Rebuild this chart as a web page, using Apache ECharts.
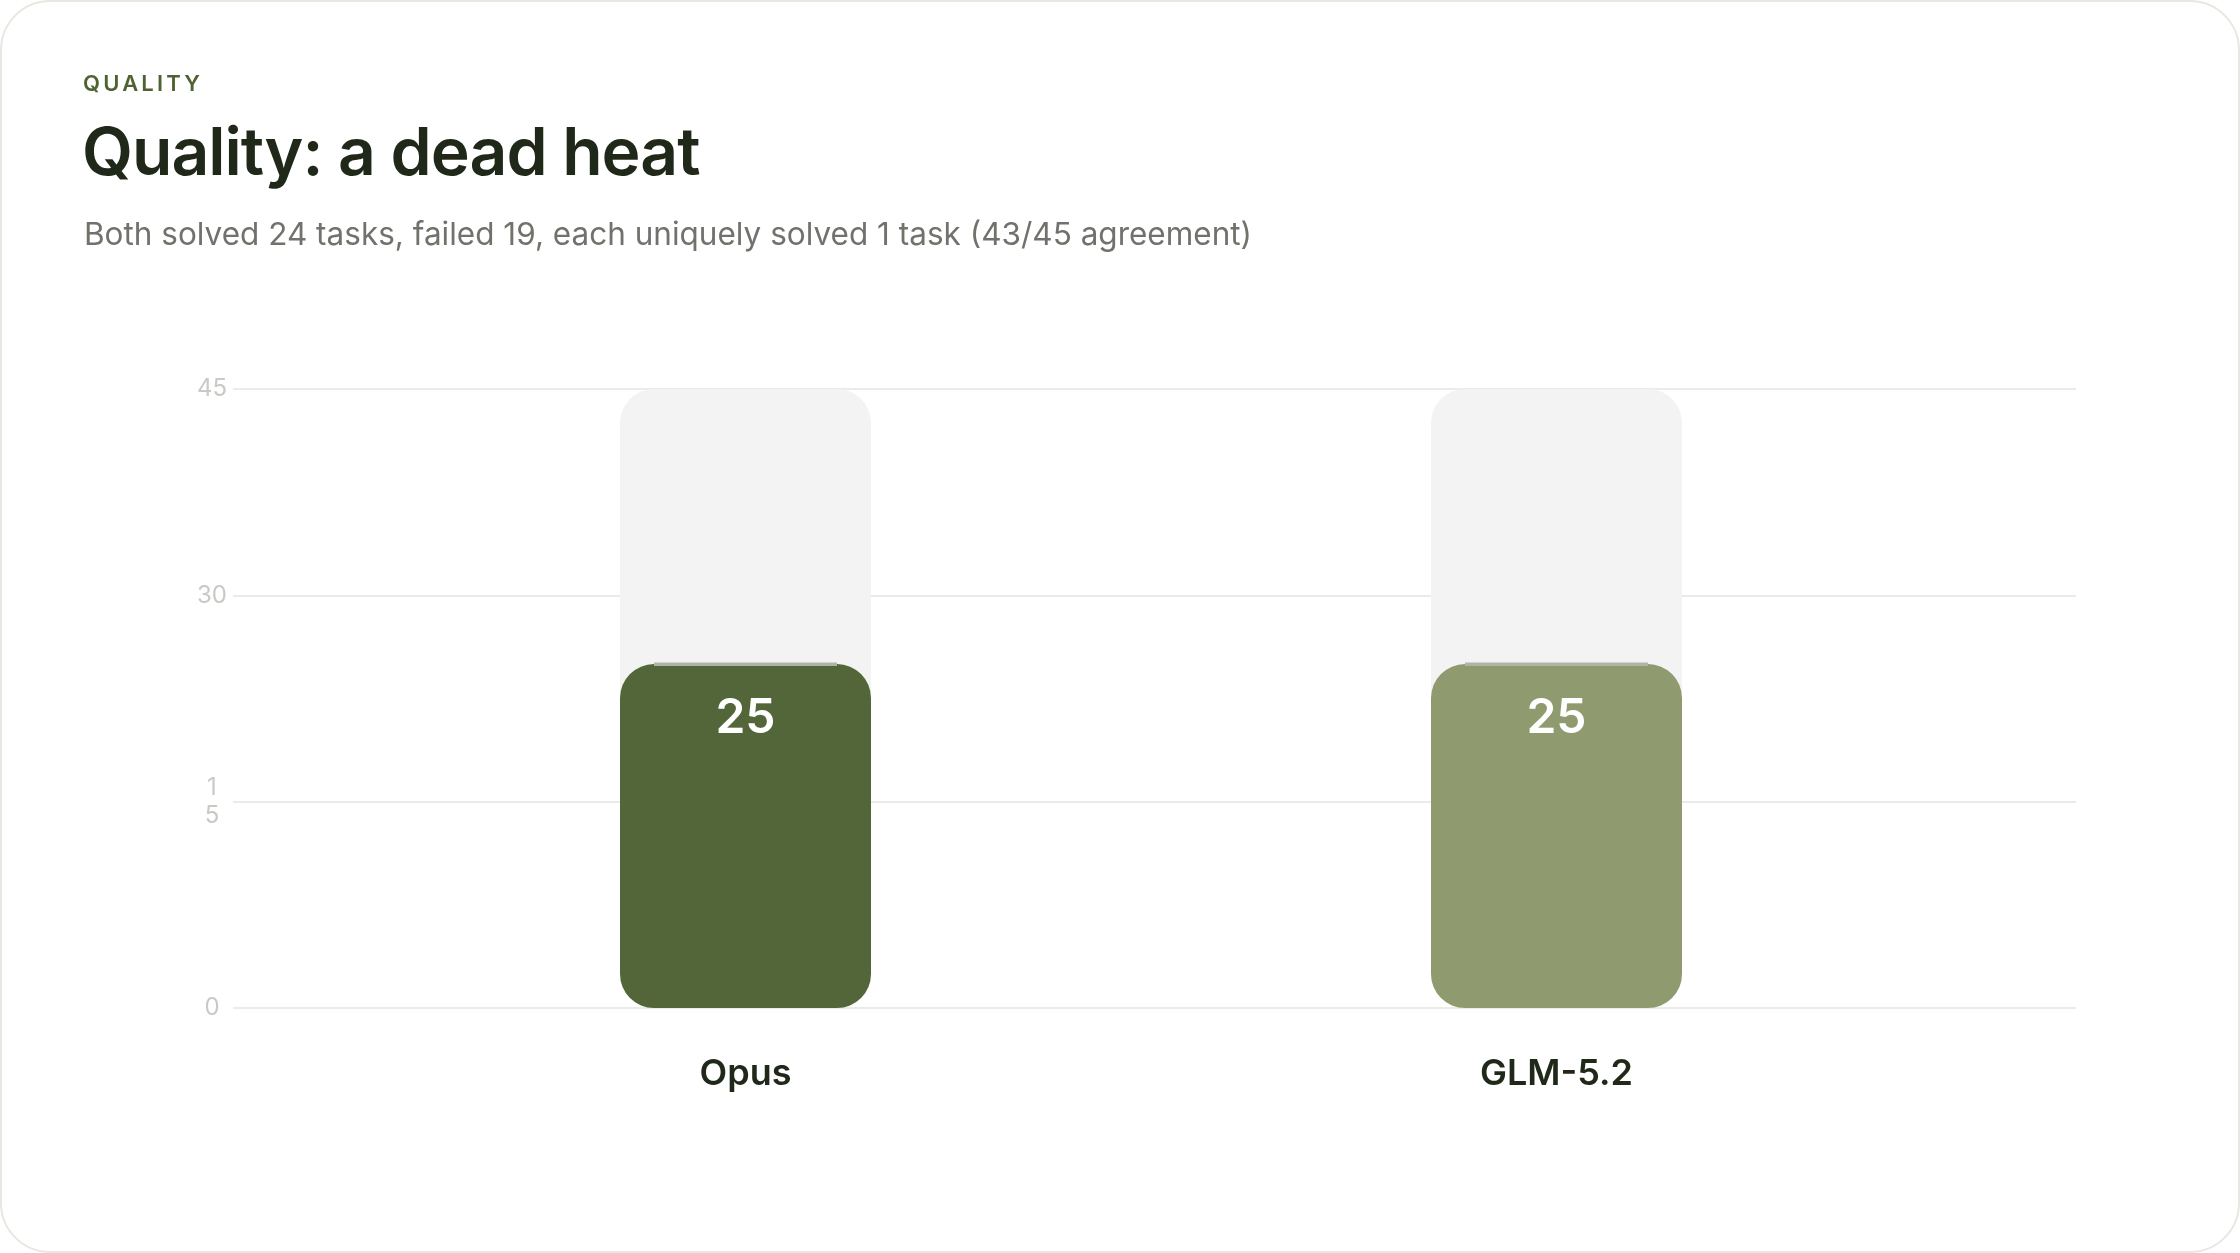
<!DOCTYPE html>
<html>
<head>
<meta charset="utf-8">
<script src="https://cdn.jsdelivr.net/npm/echarts@6/dist/echarts.min.js"></script>
<style>
    html, body {
        margin: 0;
        padding: 0;
        background: #ffffff;
        font-family: Inter, "Noto Sans", sans-serif;
    }

    .card {
        position: absolute;
        left: 0;
        top: 0;
        width: 2240px;
        height: 1253px;
        box-sizing: border-box;
        border: 2px solid #e8e8e2;
        border-radius: 50px;
        background: #ffffff;
        overflow: hidden;
    }

    .eyebrow {
        position: absolute;
        left: 81px;
        top: 70px;
        font-size: 22px;
        line-height: 1;
        font-weight: 600;
        letter-spacing: 3.2px;
        color: #4f6332;
    }

    .headline {
        position: absolute;
        left: 80px;
        top: 116px;
        font-size: 66px;
        line-height: 1;
        font-weight: 600;
        letter-spacing: -1px;
        color: #1f2819;
        white-space: nowrap;
    }

    .subline {
        position: absolute;
        left: 82px;
        top: 216px;
        font-size: 31.5px;
        line-height: 1;
        font-weight: 400;
        color: #72726d;
        white-space: nowrap;
    }

    #chart {
        position: absolute;
        left: 0;
        top: 0;
        width: 2240px;
        height: 1253px;
    }
</style>
</head>
<body>
<div class="card">
    <div id="chart"></div>
    <div class="eyebrow">QUALITY</div>
    <div class="headline">Quality: a dead heat</div>
    <div class="subline">Both solved 24 tasks, failed 19, each uniquely solved 1 task (43/45 agreement)</div>
</div>
<script>
    // 数据
    var categories = ['Opus', 'GLM-5.2'];
    var solved = [25, 25];
    var barColors = ['#536639', '#8f9b6e'];
    var yTickValues = [0, 15, 30, 45];
    var yTickLabels = ['0', '1\n5', '30', '45'];
    var yMax = 45;

    var myChart = echarts.init(document.getElementById('chart'));

    var barWidth = 251;
    var barRadius = 34;

    myChart.setOption({
        animation: false,
        textStyle: {
            fontFamily: 'Inter'
        },
        grid: [
            // 网格线用
            {left: 231, right: 166, top: 387, bottom: 247},
            // 柱子用
            {left: 338, right: 280, top: 387, bottom: 247}
        ],
        xAxis: [
            {
                gridIndex: 0,
                type: 'value',
                min: 0,
                max: 1,
                show: false
            },
            {
                gridIndex: 1,
                type: 'category',
                data: categories,
                axisLine: {show: false},
                axisTick: {show: false},
                axisLabel: {
                    color: '#1f2819',
                    fontSize: 36,
                    fontWeight: 600,
                    margin: 48
                }
            }
        ],
        yAxis: [
            {
                gridIndex: 0,
                type: 'value',
                min: 0,
                max: yMax,
                interval: 15,
                axisLine: {show: false},
                axisTick: {show: false},
                splitLine: {
                    lineStyle: {color: '#ebebe7', width: 2}
                },
                axisLabel: {
                    color: '#c9c9c5',
                    fontSize: 24,
                    lineHeight: 28,
                    align: 'center',
                    margin: 21,
                    formatter: function (v) {
                        var i = yTickValues.indexOf(v);
                        return i >= 0 ? yTickLabels[i] : '';
                    }
                }
            },
            {
                gridIndex: 1,
                type: 'value',
                min: 0,
                max: yMax,
                show: false,
                splitLine: {show: false}
            }
        ],
        series: [
            {
                type: 'bar',
                xAxisIndex: 1,
                yAxisIndex: 1,
                barWidth: barWidth,
                showBackground: true,
                backgroundStyle: {
                    color: '#f3f3f3',
                    borderRadius: barRadius
                },
                data: solved.map(function (v, i) {
                    return {value: v, itemStyle: {color: barColors[i]}};
                }),
                itemStyle: {
                    borderRadius: barRadius
                },
                label: {
                    show: true,
                    position: 'insideTop',
                    distance: 30,
                    color: '#ffffff',
                    fontSize: 48,
                    fontWeight: 600
                },
                z: 2
            },
            {
                // 柱顶细线
                type: 'custom',
                xAxisIndex: 1,
                yAxisIndex: 1,
                silent: true,
                z: 3,
                data: solved.map(function (v, i) {
                    return [i, v];
                }),
                renderItem: function (params, api) {
                    var p = api.coord([api.value(0), api.value(1)]);
                    var w = barWidth - barRadius * 2;
                    return {
                        type: 'rect',
                        shape: {x: p[0] - w / 2, y: p[1] - 1.5, width: w, height: 3.5},
                        style: {fill: '#b0b3a8'}
                    };
                }
            }
        ]
    });
</script>
</body>
</html>
